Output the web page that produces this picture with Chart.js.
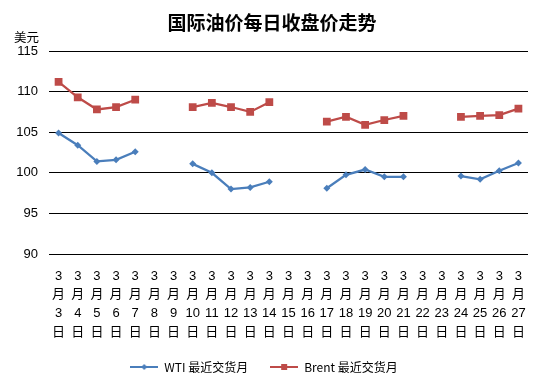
<!DOCTYPE html>
<html>
<head>
<meta charset="utf-8">
<script src="https://cdn.jsdelivr.net/npm/chart.js@4/dist/chart.umd.min.js"></script>
<style>
  html, body { margin: 0; padding: 0; background: #fff; }
  #wrap { width: 544px; height: 384px; }
</style>
</head>
<body>
<div id="wrap"><canvas id="oilChart"></canvas></div>
<script>
// 3月3日 .. 3月27日, weekends left empty
let days = [3, 4, 5, 6, 7, 8, 9, 10, 11, 12, 13, 14, 15, 16, 17, 18, 19, 20, 21, 22, 23, 24, 25, 26, 27];
let wtiPrices = [104.9, 103.4, 101.4, 101.6, 102.6, null, null,
    101.1, 100.0, 98.0, 98.2, 98.9, null, null,
    98.1, 99.75, 100.4, 99.5, 99.5, null, null,
    99.6, 99.2, 100.25, 101.2];
let brentPrices = [111.2, 109.3, 107.8, 108.1, 109.0, null, null,
    108.1, 108.6, 108.1, 107.5, 108.7, null, null,
    106.3, 106.9, 105.9, 106.5, 107.0, null, null,
    106.9, 107.0, 107.1, 107.9];
let yTicks = [90, 95, 100, 105, 110, 115];

let labels = days.map(d => ['3', '月', String(d), '日']);

const wtiColor = '#4A7EBB';
const brentColor = '#BE4B48';
const fontFamily = '"Liberation Sans", "Noto Sans CJK SC", sans-serif';
const cjkFont = '"Noto Sans CJK SC", sans-serif';

// small canvas with line + marker for the legend
function legendIcon(color, marker) {
    let c = document.createElement('canvas');
    c.width = 28;
    c.height = 10;
    let ctx = c.getContext('2d');
    ctx.strokeStyle = color;
    ctx.lineWidth = 2;
    ctx.beginPath();
    ctx.moveTo(0, 5);
    ctx.lineTo(28, 5);
    ctx.stroke();
    ctx.fillStyle = color;
    if (marker === 'square') {
        ctx.fillRect(11, 2, 6, 6);
    } else {
        ctx.beginPath();
        ctx.moveTo(14, 2);
        ctx.lineTo(17, 5);
        ctx.lineTo(14, 8);
        ctx.lineTo(11, 5);
        ctx.closePath();
        ctx.fill();
    }
    return c;
}

// title and unit text, placed like the original
let headerText = {
    id: 'headerText',
    afterDraw(chart) {
        let ctx = chart.ctx;
        ctx.save();
        ctx.fillStyle = '#000';
        ctx.textBaseline = 'middle';
        ctx.textAlign = 'center';
        ctx.font = 'bold 19px ' + cjkFont;
        ctx.fillText('国际油价每日收盘价走势', 272, 23);
        ctx.textAlign = 'left';
        ctx.font = '12.5px ' + cjkFont;
        ctx.fillText('美元', 14, 37);
        ctx.restore();
    }
};

let oilChart = new Chart(document.getElementById('oilChart'), {
    type: 'line',
    data: {
        labels: labels,
        datasets: [{
            label: 'WTI 最近交货月',
            data: wtiPrices,
            borderColor: wtiColor,
            backgroundColor: wtiColor,
            borderWidth: 2.25,
            pointStyle: 'rectRot',
            pointRadius: 3.5,
            pointBorderWidth: 0,
            lineTension: 0,
            spanGaps: false,
            fill: false
        }, {
            label: 'Brent 最近交货月',
            data: brentPrices,
            borderColor: brentColor,
            backgroundColor: brentColor,
            borderWidth: 2.25,
            pointStyle: 'rect',
            pointRadius: 5.5,
            pointBorderWidth: 0,
            lineTension: 0,
            spanGaps: false,
            fill: false
        }]
    },
    options: {
        responsive: true,
        maintainAspectRatio: false,
        animation: false,
        layout: { padding: { left: 0, right: 16, top: 51, bottom: 1 } },
        plugins: {
            title: { display: false },
            legend: {
                position: 'bottom',
                labels: {
                    color: '#000',
                    font: { family: cjkFont, size: 12 },
                    usePointStyle: true,
                    pointStyleWidth: 28,
                    padding: 22,
                    generateLabels(chart) {
                        return chart.data.datasets.map((ds, i) => ({
                            text: ds.label,
                            pointStyle: legendIcon(ds.borderColor, i === 0 ? 'diamond' : 'square'),
                            fillStyle: ds.borderColor,
                            strokeStyle: ds.borderColor,
                            lineWidth: 0,
                            datasetIndex: i,
                            hidden: false
                        }));
                    }
                }
            },
            tooltip: { enabled: false }
        },
        scales: {
            x: {
                offset: true,
                grid: { display: false, offset: true },
                border: { display: false },
                ticks: {
                    autoSkip: false,
                    maxRotation: 0,
                    color: '#000',
                    padding: 5,
                    font: { family: fontFamily, size: 13, lineHeight: 1.43 }
                },
                afterFit(scale) { scale.height = 85; }
            },
            y: {
                min: 90,
                max: 115,
                afterBuildTicks(scale) {
                    scale.ticks = yTicks.map(v => ({ value: v }));
                },
                grid: { color: '#000', lineWidth: 1, drawTicks: false },
                border: { display: false },
                ticks: {
                    color: '#000',
                    padding: 11,
                    font: { family: fontFamily, size: 13 }
                },
                afterFit(scale) { scale.width = 49; }
            }
        }
    },
    plugins: [headerText]
});
</script>
</body>
</html>
